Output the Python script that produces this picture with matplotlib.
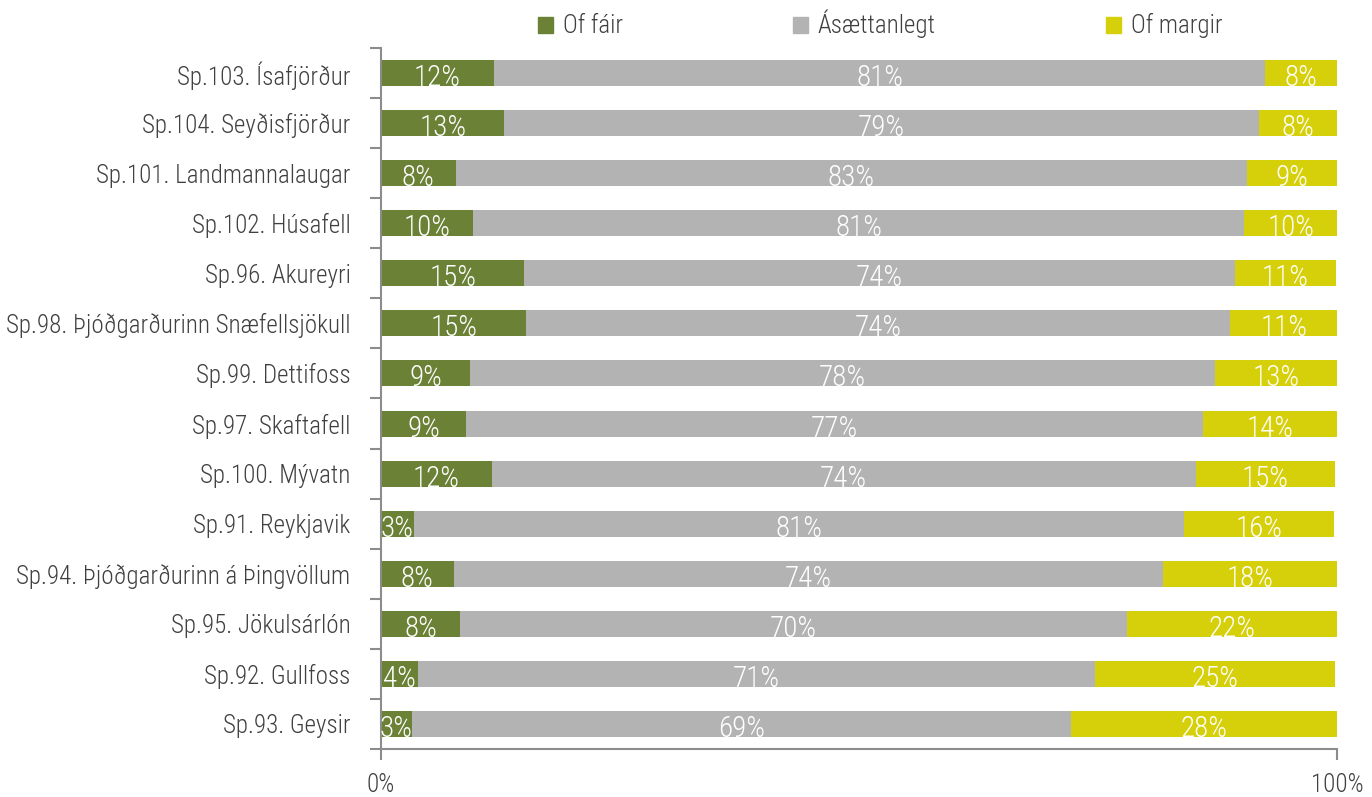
import numpy as np
import matplotlib
matplotlib.use("Agg")
import matplotlib.pyplot as plt
from matplotlib.patches import Patch
from matplotlib import font_manager

# categories, top to bottom as in the picture
places = [
    "Sp.103. Ísafjörður",
    "Sp.104. Seyðisfjörður",
    "Sp.101. Landmannalaugar",
    "Sp.102. Húsafell",
    "Sp.96. Akureyri",
    "Sp.98. Þjóðgarðurinn Snæfellsjökull",
    "Sp.99. Dettifoss",
    "Sp.97. Skaftafell",
    "Sp.100. Mývatn",
    "Sp.91. Reykjavik",
    "Sp.94. Þjóðgarðurinn á Þingvöllum",
    "Sp.95. Jökulsárlón",
    "Sp.92. Gullfoss",
    "Sp.93. Geysir",
]
of_fair = [11.8, 12.9, 7.8, 9.6, 15.0, 15.2, 9.3, 8.9, 11.6, 3.4, 7.6, 8.3, 3.9, 3.2]
asaettanlegt = [80.7, 78.9, 82.8, 80.7, 74.3, 73.6, 77.9, 77.1, 73.6, 80.6, 74.2, 69.7, 70.8, 69.0]
of_margir = [7.5, 8.2, 9.4, 9.8, 10.6, 11.3, 12.8, 14.0, 14.6, 15.7, 18.2, 22.0, 25.1, 27.8]

series_names = ["Of fáir", "Ásættanlegt", "Of margir"]
colors = ["#6a8136", "#b3b3b3", "#d6d00a"]
text_col = "#404040"
spine_col = "#8c8c8c"

# pick a narrow font if one is there
names = set(f.name for f in font_manager.fontManager.ttflist)
font = "Roboto"
for cand in ["Roboto Condensed", "Liberation Sans Narrow", "DejaVu Sans Condensed"]:
    if cand in names:
        font = cand
        break
plt.rcParams["font.family"] = [font, "DejaVu Sans"]

fig = plt.figure(figsize=(13.72, 7.97), dpi=100)
ax = fig.add_axes([0.2777, 0.0602, 0.6968, 0.8796])

y = np.arange(len(places))
left = np.zeros(len(places))
for vals, name, col in zip([of_fair, asaettanlegt, of_margir], series_names, colors):
    vals = np.array(vals)
    ax.barh(y, vals, left=left, height=0.52, color=col, label=name)
    for yi, l, v in zip(y, left, vals):
        ax.text(l + v / 2, yi + 0.1, f"{v:.0f}%", ha="center", va="center",
                color="white", fontsize=21, fontweight="light")
    left = left + vals

ax.set_xlim(0, 100)
ax.set_ylim(len(places) - 0.5, -0.5)

ax.set_yticks(y)
ax.set_yticklabels(places, fontsize=18, color=text_col, fontweight="light")
ax.set_yticks(np.arange(-0.5, len(places), 1), minor=True)
ax.tick_params(axis="y", which="major", length=0, pad=22)
ax.tick_params(axis="y", which="minor", length=8, color=spine_col, width=1.5)

ax.set_xticks([0, 100])
ax.set_xticklabels(["0%", "100%"], fontsize=18, color=text_col, fontweight="light")
ax.tick_params(axis="x", length=8, color=spine_col, width=1.5, pad=9)

for s in ["top", "right"]:
    ax.spines[s].set_visible(False)
for s in ["left", "bottom"]:
    ax.spines[s].set_color(spine_col)
    ax.spines[s].set_linewidth(1.5)

handles = [Patch(color=c, label=n) for c, n in zip(colors, series_names)]
leg = ax.legend(handles=handles, ncol=3, loc="center", bbox_to_anchor=(0.522, 1.034),
                frameon=False, prop={"size": 18, "weight": "light"},
                handlelength=0.6, handleheight=0.6,
                handletextpad=0.4, columnspacing=6.8, borderaxespad=0)
for t in leg.get_texts():
    t.set_color(text_col)

fig.savefig("out.png", dpi=100)
